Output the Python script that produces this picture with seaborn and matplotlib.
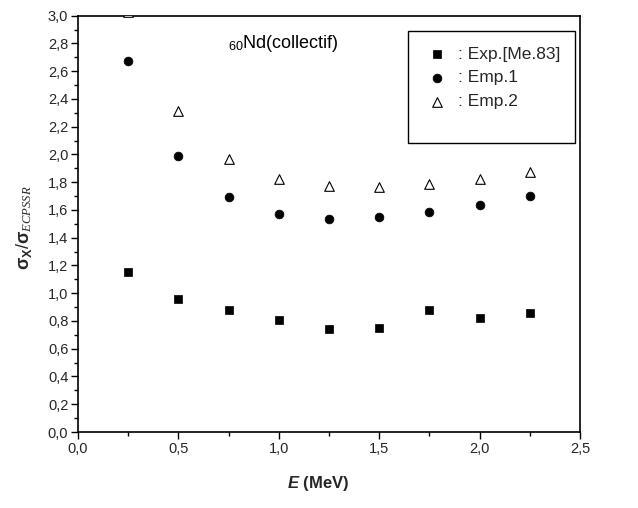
import matplotlib
matplotlib.use("Agg")
import matplotlib.pyplot as plt
import seaborn as sns
import numpy as np
import pandas as pd
from matplotlib.ticker import MultipleLocator, FuncFormatter
from matplotlib.patches import Rectangle

energy = [0.25, 0.5, 0.75, 1.0, 1.25, 1.5, 1.75, 2.0, 2.25]
exp_me83 = [1.15, 0.96, 0.88, 0.81, 0.74, 0.75, 0.88, 0.82, 0.86]
emp1 = [2.67, 1.99, 1.69, 1.57, 1.535, 1.547, 1.583, 1.633, 1.702]
emp2 = [3.03, 2.31, 1.97, 1.82, 1.77, 1.765, 1.785, 1.82, 1.875]
labels = [": Exp.[Me.83]", ": Emp.1", ": Emp.2"]

sns.set_theme(style="white")
plt.rcParams['font.family'] = ['Liberation Sans', 'DejaVu Sans']
plt.rcParams['mathtext.fontset'] = 'custom'
plt.rcParams['mathtext.rm'] = 'Liberation Sans'
plt.rcParams['mathtext.bf'] = 'Liberation Sans:bold'
plt.rcParams['mathtext.it'] = 'Liberation Serif:italic'
plt.rcParams['mathtext.bfit'] = 'Liberation Sans:italic:bold'

fig = plt.figure(figsize=(6.38, 5.08), dpi=100)
ax = fig.add_axes([0.1223, 0.1496, 0.7868, 0.8195])

df = pd.DataFrame({"E": energy, "exp": exp_me83, "e1": emp1, "e2": emp2})
sns.scatterplot(data=df, x="E", y="exp", marker="s", s=30, color="black",
                edgecolor="black", linewidth=0.5, ax=ax, label=labels[0], zorder=3)
sns.scatterplot(data=df, x="E", y="e1", marker="o", s=40, color="black",
                edgecolor="black", linewidth=0.5, ax=ax, label=labels[1], zorder=3)
sns.scatterplot(data=df, x="E", y="e2", marker="^", s=48, facecolor="white",
                edgecolor="black", linewidth=0.8, ax=ax, label=labels[2], zorder=3)

ax.set_xlim(0, 2.5)
ax.set_ylim(0, 3.0)
ax.xaxis.set_major_locator(MultipleLocator(0.5))
ax.xaxis.set_minor_locator(MultipleLocator(0.25))
ax.yaxis.set_major_locator(MultipleLocator(0.2))
ax.yaxis.set_minor_locator(MultipleLocator(0.1))
fmt = FuncFormatter(lambda v, p: f"{v:.1f}".replace(".", ","))
ax.xaxis.set_major_formatter(fmt)
ax.yaxis.set_major_formatter(fmt)
ax.tick_params(which="major", direction="out", length=5, width=1, color="black",
               labelsize=10.5, bottom=True, left=True, top=False, right=False, pad=2)
ax.tick_params(which="minor", direction="out", length=3, width=1, color="black",
               bottom=True, left=True, top=False, right=False)
for sp in ax.spines.values():
    sp.set_color("black")
    sp.set_linewidth(1.2)

ax.set_xlabel(r"$\mathbfit{E}$ (MeV)", fontsize=12, fontweight="bold")
ax.xaxis.set_label_coords(0.478, -0.10)
ax.set_ylabel(r"$\mathbf{\sigma_X}$/$\mathbf{\sigma}_{ECPSSR}$", fontsize=13)
ax.yaxis.set_label_coords(-0.088, 0.49)

ax.text(0.747, 2.767, r"$_{60}$Nd(collectif)", fontsize=13, color="black", va="baseline")

# legend frame
ax.add_patch(Rectangle((0.657, 0.694), 0.333, 0.270, transform=ax.transAxes,
                       facecolor="white", edgecolor="black", linewidth=1.0, zorder=4))
leg = ax.legend(loc="upper left", bbox_to_anchor=(0.695, 0.926), frameon=False,
                fontsize=12.5, handletextpad=0.6, borderpad=0.0, labelspacing=0.5,
                borderaxespad=0.0, handlelength=1.2)
leg.set_zorder(5)

fig.savefig("out.png", dpi=100)
